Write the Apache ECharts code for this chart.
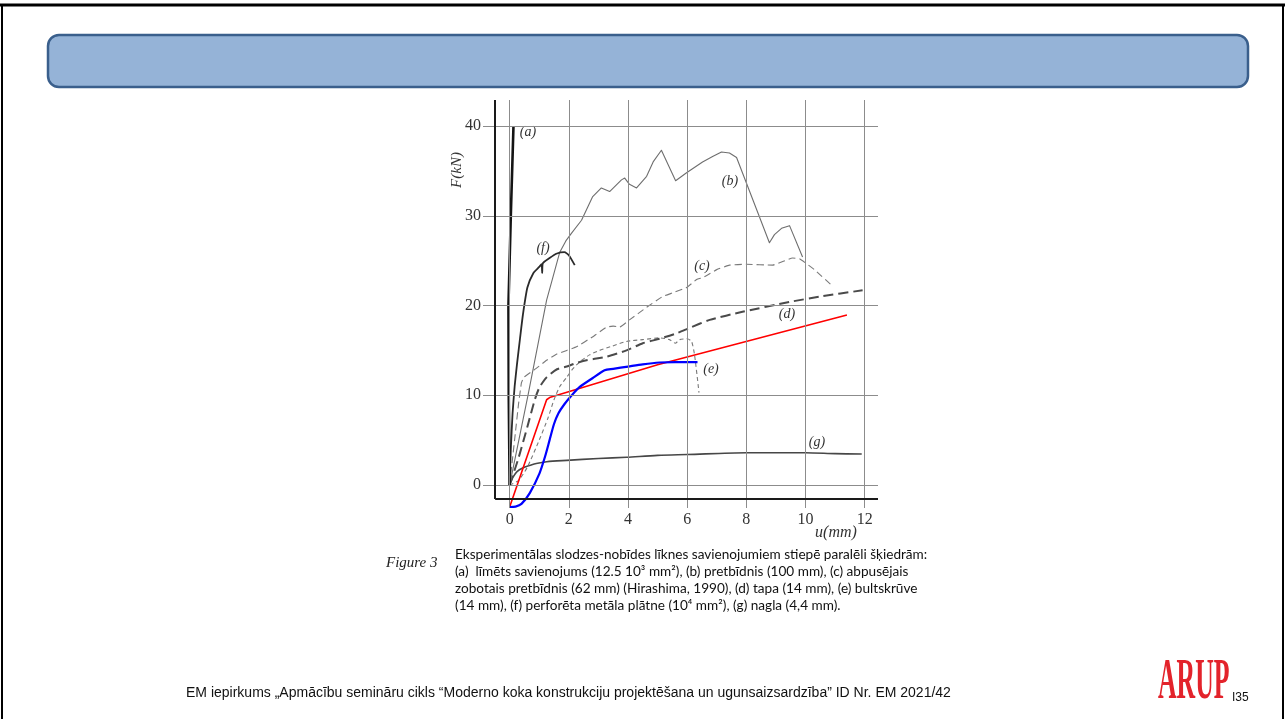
<!DOCTYPE html>
<html>
<head>
<meta charset="utf-8">
<script src="https://cdn.jsdelivr.net/npm/echarts@6/dist/echarts.min.js"></script>
<style>
  html, body { margin: 0; padding: 0; background: #ffffff; }
  #slide { width: 1285px; height: 719px; }
</style>
</head>
<body>
<div id="slide"></div>
<script>
// Axis ticks: displacement u (mm) and load F (kN)
const uTicks = [0, 2, 4, 6, 8, 10, 12];
const fTicks = [0, 10, 20, 30, 40];

// Load-slip curves, each point is [u (mm), F (kN)]
const curveA = [[0, 0], [-0.03, 10], [-0.04, 20], [0.04, 30], [0.13, 40]];
const curveB = [[0, 0], [0.62, 10], [1.25, 20.6], [1.45, 23], [1.69, 25.9], [1.9, 27.2], [2.1, 28.1],
  [2.43, 29.5], [2.8, 32.1], [3.1, 33.1], [3.38, 32.7], [3.78, 34.0], [3.89, 34.2], [4.05, 33.5],
  [4.29, 33.1], [4.63, 34.4], [4.85, 36.0], [5.13, 37.3], [5.61, 33.9], [5.98, 34.8], [6.52, 36.0],
  [6.86, 36.6], [7.16, 37.1], [7.43, 37.0], [7.67, 36.5], [8.78, 27.0], [8.95, 27.9], [9.19, 28.6],
  [9.46, 28.9], [9.9, 25.4]];
const curveC = [[0, 0], [0.1, 3], [0.2, 6], [0.3, 9], [0.4, 11.4], [0.48, 12.0], [0.9, 13.0], [1.25, 13.9],
  [1.6, 14.6], [1.93, 15.0], [2.26, 15.4], [2.8, 16.5], [3.28, 17.6], [3.5, 17.7], [3.72, 17.6],
  [4.05, 18.4], [4.63, 19.8], [5.17, 21.0], [5.5, 21.4], [5.98, 22.0], [6.32, 22.9], [6.52, 23.1],
  [6.69, 23.4], [7.0, 24.0], [7.43, 24.5], [8.0, 24.6], [8.89, 24.5], [9.3, 25.0], [9.56, 25.3],
  [9.8, 25.2], [10.3, 24.0], [10.9, 22.2]];
const curveD = [[0, 0], [0.3, 3], [0.6, 6.5], [0.85, 9.5], [1.01, 10.9], [1.25, 12.0], [1.6, 12.9],
  [1.93, 13.2], [2.26, 13.6], [2.6, 13.9], [3.28, 14.3], [3.95, 15.0], [4.5, 15.8], [5.07, 16.3],
  [5.64, 16.9], [6.08, 17.5], [6.76, 18.4], [7.87, 19.3], [9.46, 20.4], [10.5, 21.0], [11.93, 21.7]];
const curveE = [[0, 0], [0.3, 0.5], [0.6, 2], [1.0, 5], [1.3, 7.5], [1.5, 9.5], [1.7, 11], [1.93, 12.0],
  [2.1, 12.8], [2.36, 13.7], [2.7, 14.5], [3.04, 15.0], [3.4, 15.4], [3.95, 16.0], [4.5, 16.2],
  [5.07, 16.4], [5.4, 16.2], [5.6, 15.8], [5.75, 16.2], [6.0, 16.3], [6.15, 16.0], [6.25, 14.5],
  [6.4, 10.3]];
const curveF = [[0, 0], [0.04, 4], [0.1, 8], [0.17, 11], [0.25, 13.5], [0.35, 16.3], [0.45, 19],
  [0.6, 22], [0.8, 23.6], [1.0, 24.3], [1.08, 24.6], [1.1, 23.6], [1.12, 24.7], [1.35, 25.3],
  [1.6, 25.8], [1.85, 25.95], [2.0, 25.6], [2.2, 24.5]];
const curveG = [[0, 0], [0.12, 0.9], [0.25, 1.5], [0.44, 1.9], [0.7, 2.2], [0.9, 2.4], [1.25, 2.6],
  [1.93, 2.75], [3, 2.95], [3.95, 3.1], [5, 3.3], [6, 3.4], [8, 3.6], [10, 3.6], [11, 3.5], [11.9, 3.45]];
const modelRed = [[0, -2.45], [1.25, 9.5], [1.35, 9.75], [5.0, 13.4], [11.4, 18.95]];
const modelBlue = [[0, -2.45], [0.2, -2.4], [0.4, -2.1], [0.68, -0.9], [1.01, 1.3], [1.2, 3.2],
  [1.35, 5.0], [1.5, 6.8], [1.65, 8.0], [1.85, 9.0], [2.1, 10.0], [2.36, 10.9], [2.8, 11.9],
  [3.21, 12.8], [3.5, 12.95], [4.0, 13.2], [4.5, 13.45], [5.07, 13.65], [5.6, 13.7], [6.35, 13.7]];

// Curve tags (a)..(g)
const curveTags = ['(a)', '(b)', '(c)', '(d)', '(e)', '(f)', '(g)'];

// Caption and footer text
const figureTag = 'Figure 3';
const captionLines = [
  'Eksperimentālas slodzes-nobīdes līknes savienojumiem stiepē paralēli šķiedrām:',
  '(a)  līmēts savienojums (12.5 10³ mm²), (b) pretbīdnis (100 mm), (c) abpusējais',
  'zobotais pretbīdnis (62 mm) (Hirashima, 1990), (d) tapa (14 mm), (e) bultskrūve',
  '(14 mm), (f) perforēta metāla plātne (10⁴ mm²), (g) nagla (4,4 mm).'
];
const footerText = 'EM iepirkums „Apmācību semināru cikls “Moderno koka konstrukciju projektēšana un ugunsaizsardzība” ID Nr. EM 2021/42';

// Plot frame extents in data units
const U_MIN = -0.9, U_MAX = 12.45, F_MIN = -2.56, F_MAX = 42.9;
const FRAME_U = -0.49, FRAME_F = -1.56;

const serif = '"Liberation Serif", "DejaVu Serif", serif';
const ink = '#333333';
const captionFont = '13.6px Lato, "Open Sans", sans-serif';

function curve(name, data, color, width, type, smooth) {
  return {
    name: name, type: 'line', data: data, showSymbol: false, symbol: 'none',
    smooth: smooth || false, z: 3, silent: true,
    lineStyle: { color: color, width: width, type: type || 'solid', cap: 'butt', join: 'round' }
  };
}

function tag(text, x, y) {
  return { type: 'text', x: x, y: y, silent: true,
    style: { text: text, font: 'italic 14px ' + serif, fill: ink, align: 'center', verticalAlign: 'middle' } };
}

function captionLine(text, y) {
  return { type: 'text', x: 455, y: y, silent: true,
    style: { text: text, font: captionFont, fill: '#111', align: 'left', verticalAlign: 'middle' } };
}

const chart = echarts.init(document.getElementById('slide'), null, { renderer: 'canvas' });

const option = {
  animation: false,
  backgroundColor: '#ffffff',
  grid: { left: 483, right: 1285 - 878, top: 100, bottom: 719 - 508, containLabel: false },
  xAxis: {
    type: 'value', min: U_MIN, max: U_MAX,
    axisLine: { show: false }, axisTick: { show: false }, splitLine: { show: false },
    axisLabel: {
      customValues: uTicks, margin: 4,
      fontFamily: serif, fontSize: 16, color: ink
    }
  },
  yAxis: {
    type: 'value', min: F_MIN, max: F_MAX,
    axisLine: { show: false }, axisTick: { show: false }, splitLine: { show: false },
    axisLabel: {
      customValues: fTicks, margin: 2,
      fontFamily: serif, fontSize: 16, color: ink
    }
  },
  series: [
    {
      name: 'grid', type: 'line', data: [], z: 1, silent: true,
      markLine: {
        silent: true, symbol: 'none', label: { show: false }, animation: false,
        lineStyle: { color: '#8c8c8c', width: 1, type: 'solid' },
        data: uTicks.map(v => ({ xAxis: v })).concat(fTicks.map(v => ({ yAxis: v })))
      }
    },
    {
      name: 'frame', type: 'line', data: [], z: 2, silent: true,
      markLine: {
        silent: true, symbol: 'none', label: { show: false }, animation: false,
        lineStyle: { color: '#1a1a1a', width: 2, type: 'solid' },
        data: [
          [{ coord: [FRAME_U, FRAME_F] }, { coord: [FRAME_U, F_MAX] }],
          [{ coord: [FRAME_U, FRAME_F] }, { coord: [U_MAX, FRAME_F] }]
        ]
      }
    },
    curve('g', curveG, '#474747', 1.6, 'solid', 0.3),
    curve('e', curveE, '#7a7a7a', 1.1, [4, 3], 0.2),
    curve('d', curveD, '#4a4a4a', 2, [10, 5], 0.2),
    curve('c', curveC, '#7a7a7a', 1.1, [7, 4], 0.1),
    curve('b', curveB, '#6e6e6e', 1.1, 'solid', false),
    curve('f', curveF, '#2a2a2a', 1.8, 'solid', 0.2),
    curve('a', curveA, '#141414', 2.6, 'solid', false),
    curve('red', modelRed, '#ff0000', 1.6, 'solid', false),
    curve('blue', modelBlue, '#0000ff', 2.2, 'solid', 0.25)
  ],
  graphic: [
    // slide border
    { type: 'line', shape: { x1: 0, y1: 5, x2: 1285, y2: 5 }, style: { stroke: '#000', lineWidth: 3 }, silent: true },
    { type: 'line', shape: { x1: 2, y1: 5, x2: 2, y2: 719 }, style: { stroke: '#000', lineWidth: 2 }, silent: true },
    { type: 'line', shape: { x1: 1283, y1: 5, x2: 1283, y2: 719 }, style: { stroke: '#000', lineWidth: 2 }, silent: true },
    // title band
    { type: 'rect', shape: { x: 48, y: 35, width: 1200, height: 52, r: 11 },
      style: { fill: '#95b3d7', stroke: '#3a5f8c', lineWidth: 2.5 }, silent: true },
    // axis titles
    { type: 'text', x: 457, y: 170, rotation: Math.PI / 2, silent: true,
      style: { text: 'F(kN)', font: 'italic 15px ' + serif, fill: ink, align: 'center', verticalAlign: 'middle' } },
    { type: 'text', x: 836, y: 533, silent: true,
      style: { text: 'u(mm)', font: 'italic 16px ' + serif, fill: ink, align: 'center', verticalAlign: 'middle' } },
    // curve tags
    tag(curveTags[0], 528, 132),
    tag(curveTags[1], 730, 181),
    tag(curveTags[2], 702, 266),
    tag(curveTags[3], 787, 314),
    tag(curveTags[4], 711, 369),
    tag(curveTags[5], 543, 248),
    tag(curveTags[6], 817, 442),
    // caption
    { type: 'text', x: 386, y: 563, silent: true,
      style: { text: figureTag, font: 'italic 15px ' + serif, fill: '#222', align: 'left', verticalAlign: 'middle' } },
    captionLine(captionLines[0], 555),
    captionLine(captionLines[1], 572),
    captionLine(captionLines[2], 589),
    captionLine(captionLines[3], 606),
    // footer
    { type: 'text', x: 186, y: 693, silent: true,
      style: { text: footerText, font: '14px "Liberation Sans", Arial, sans-serif', fill: '#111', align: 'left', verticalAlign: 'middle' } },
    // logo and page number
    { type: 'text', x: 1158, y: 684, scaleX: 0.46, silent: true,
      style: { text: 'ARUP', font: 'bold 56px ' + serif, fill: '#e3232b', align: 'left', verticalAlign: 'middle' } },
    { type: 'text', x: 1232, y: 698, silent: true,
      style: { text: 'I35', font: '12px "Liberation Sans", Arial, sans-serif', fill: '#111', align: 'left', verticalAlign: 'middle' } }
  ]
};

chart.setOption(option);
</script>
</body>
</html>
